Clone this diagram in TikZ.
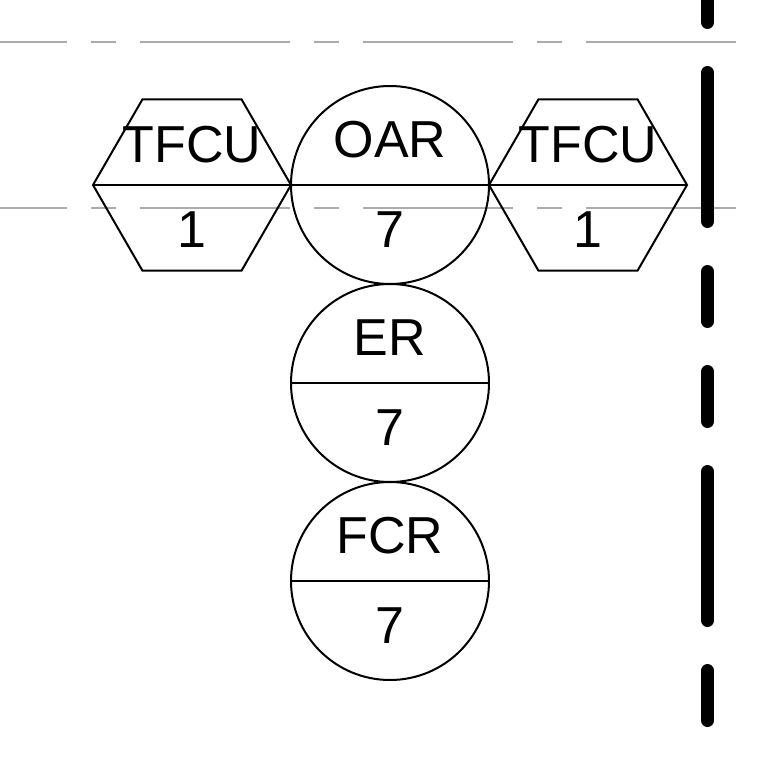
\documentclass[tikz,border=0pt]{standalone}
\usepackage{fontspec}
\setmainfont{Liberation Sans}
\usepackage{tikz}
\usetikzlibrary{positioning,shapes.geometric}
\usepackage{xcolor}
\tikzset{
	ring/.style={draw, circle, line width=2pt, minimum size=198pt, inner sep=0pt, outer sep=0pt},
	hexa/.style={draw, regular polygon, regular polygon sides=6, line width=2pt, minimum size=198pt, inner sep=0pt, outer sep=0pt},
	lbl/.style={fill=white, inner sep=0pt, outer sep=0pt, anchor=base, text height=0.905em, text depth=0.212em, font=\fontsize{52}{60}\selectfont},
	centerline/.style={draw=black!33, line width=2pt, dash pattern=on 150pt off 24pt on 25pt off 24pt, dash phase=83pt},
	axisline/.style={draw=black, line width=13.5pt, line cap=round, dash pattern=on 49.5pt off 50.5pt on 148.5pt off 50.5pt on 49.5pt off 50.5pt}
}

\begin{document}
\begin{tikzpicture}[x=1pt, y=-1pt]
		\useasboundingbox (0,0) rectangle (760,760);
		\fill[white] (0,0) rectangle (760,760);
		
		\draw[centerline] (0,42.5) -- (736,42.5);
		\draw[centerline] (0,208) -- (736,208);
		
		\node[ring] (oar) at (390,185) {};
		\node[ring, below=0pt of oar] (er) {};
		\node[ring, below=0pt of er] (fcr) {};
		\node[hexa, left=0pt of oar] (tfcuL) {};
		\node[hexa, right=0pt of oar] (tfcuR) {};
		
		\draw[line width=2pt] (tfcuL.west) -- (tfcuL.east);
		\draw[line width=2pt] (oar.west) -- (oar.east);
		\draw[line width=2pt] (tfcuR.west) -- (tfcuR.east);
		\draw[line width=2pt] (er.west) -- (er.east);
		\draw[line width=2pt] (fcr.west) -- (fcr.east);
		
		\node[lbl] (tfcuL-name) at ([yshift=23pt]tfcuL.center) {TFCU};
		\node[lbl] (tfcuL-num) at ([yshift=-62pt]tfcuL.center) {1};
		\node[lbl] (oar-name) at ([yshift=27.5pt]oar.center) {OAR};
		\node[lbl] (oar-num) at ([yshift=-62pt]oar.center) {7};
		\node[lbl] (tfcuR-name) at ([yshift=23pt]tfcuR.center) {TFCU};
		\node[lbl] (tfcuR-num) at ([yshift=-62pt]tfcuR.center) {1};
		\node[lbl] (er-name) at ([yshift=27.5pt]er.center) {ER};
		\node[lbl] (er-num) at ([yshift=-62pt]er.center) {7};
		\node[lbl] (fcr-name) at ([yshift=27.5pt]fcr.center) {FCR};
		\node[lbl] (fcr-num) at ([yshift=-62pt]fcr.center) {7};
		
		\draw[axisline] (707.5,720.25) -- (707.5,0);
	\end{tikzpicture}
\end{document}
